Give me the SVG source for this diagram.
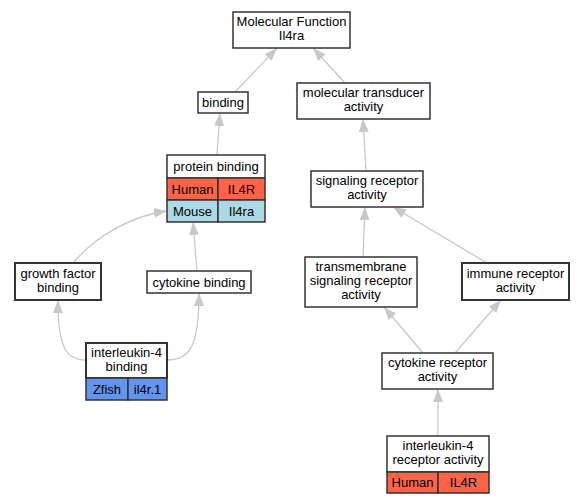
<svg xmlns="http://www.w3.org/2000/svg" width="585" height="504" viewBox="0 0 585 504">
<defs>
<style>
.n{fill:#fff;stroke:#333;stroke-width:1.5}
.t{font-family:"Liberation Sans",Arial,sans-serif;font-size:13px;fill:#000;text-anchor:middle}
.e{fill:none;stroke:#c8c8c8;stroke-width:1.3;marker-end:url(#ah)}
.hu{fill:#ff6347;stroke:#333;stroke-width:1.5}
.mo{fill:#add8e6;stroke:#333;stroke-width:1.5}
.zf{fill:#6495ed;stroke:#333;stroke-width:1.5}
</style>
<marker id="ah" viewBox="0 0 13 10" refX="13" refY="5" markerWidth="13" markerHeight="10" markerUnits="userSpaceOnUse" orient="auto">
<path d="M0,0 L13,5 L0,10 z" fill="#c8c8c8"/>
</marker>
</defs>
<rect width="585" height="504" fill="#fff"/>
<g id="edges">
<path class="e" d="M235,92 L277,48"/>
<path class="e" d="M345,83 L313,48"/>
<path class="e" d="M217,155 L220,113"/>
<path class="e" d="M73,263 C95,237 130,216 167,211"/>
<path class="e" d="M197,271 L193,222"/>
<path class="e" d="M86,360 C66,360 58,348 58,300"/>
<path class="e" d="M167,360 C190,360 199,346 199,293"/>
<path class="e" d="M366,171 L363,119"/>
<path class="e" d="M363,257 L365,207"/>
<path class="e" d="M487,263 L393,207"/>
<path class="e" d="M423,353 L384,307"/>
<path class="e" d="M455,353 L501,300"/>
<path class="e" d="M438,436 L438,389"/>
</g>
<g id="mf">
<rect class="n" x="233" y="12" width="117" height="36"/>
<text class="t" x="291.5" y="26">Molecular Function</text>
<text class="t" x="291.5" y="40">Il4ra</text>
</g>
<g id="binding">
<rect class="n" x="198" y="92" width="50" height="21"/>
<text class="t" x="223" y="107">binding</text>
</g>
<g id="transducer">
<rect class="n" x="297" y="83" width="133" height="36"/>
<text class="t" x="363.5" y="97">molecular transducer</text>
<text class="t" x="363.5" y="111">activity</text>
</g>
<g id="protein_binding">
<rect class="n" x="167" y="155" width="98" height="23"/>
<rect class="hu" x="167" y="178" width="51" height="22"/>
<rect class="hu" x="218" y="178" width="47" height="22"/>
<rect class="mo" x="167" y="200" width="51" height="22"/>
<rect class="mo" x="218" y="200" width="47" height="22"/>
<text class="t" x="216" y="171">protein binding</text>
<text class="t" x="192.5" y="193.5">Human</text>
<text class="t" x="241.5" y="193.5">IL4R</text>
<text class="t" x="192.5" y="215.5">Mouse</text>
<text class="t" x="241.5" y="215.5">Il4ra</text>
</g>
<g id="signaling">
<rect class="n" x="311" y="171" width="112" height="36"/>
<text class="t" x="367" y="185">signaling receptor</text>
<text class="t" x="367" y="199">activity</text>
</g>
<g id="growth">
<rect class="n" x="15" y="263" width="86" height="37" style="stroke-width:2"/>
<text class="t" x="58" y="277.5">growth factor</text>
<text class="t" x="58" y="291.5">binding</text>
</g>
<g id="cytokine_binding">
<rect class="n" x="147" y="271" width="104" height="22"/>
<text class="t" x="199" y="286.5">cytokine binding</text>
</g>
<g id="transmembrane">
<rect class="n" x="305" y="257" width="112" height="50"/>
<text class="t" x="361" y="271">transmembrane</text>
<text class="t" x="361" y="285">signaling receptor</text>
<text class="t" x="361" y="299">activity</text>
</g>
<g id="immune">
<rect class="n" x="462" y="263" width="107" height="37" style="stroke-width:2"/>
<text class="t" x="515.5" y="277.5">immune receptor</text>
<text class="t" x="515.5" y="291.5">activity</text>
</g>
<g id="il4_binding">
<rect class="n" x="86" y="343" width="81" height="35" style="stroke-width:2"/>
<rect class="zf" x="86" y="378" width="42" height="22"/>
<rect class="zf" x="128" y="378" width="39" height="22"/>
<text class="t" x="126.5" y="357">interleukin-4</text>
<text class="t" x="126.5" y="371">binding</text>
<text class="t" x="107" y="393.5">Zfish</text>
<text class="t" x="147.5" y="393.5">il4r.1</text>
</g>
<g id="cytokine_receptor">
<rect class="n" x="382" y="353" width="111" height="36"/>
<text class="t" x="437.5" y="367">cytokine receptor</text>
<text class="t" x="437.5" y="381">activity</text>
</g>
<g id="il4_receptor">
<rect class="n" x="387" y="436" width="102" height="36"/>
<rect class="hu" x="387" y="472" width="51" height="21"/>
<rect class="hu" x="438" y="472" width="51" height="21"/>
<text class="t" x="438" y="450">interleukin-4</text>
<text class="t" x="438" y="464">receptor activity</text>
<text class="t" x="412.5" y="487">Human</text>
<text class="t" x="463.5" y="487">IL4R</text>
</g>
</svg>
